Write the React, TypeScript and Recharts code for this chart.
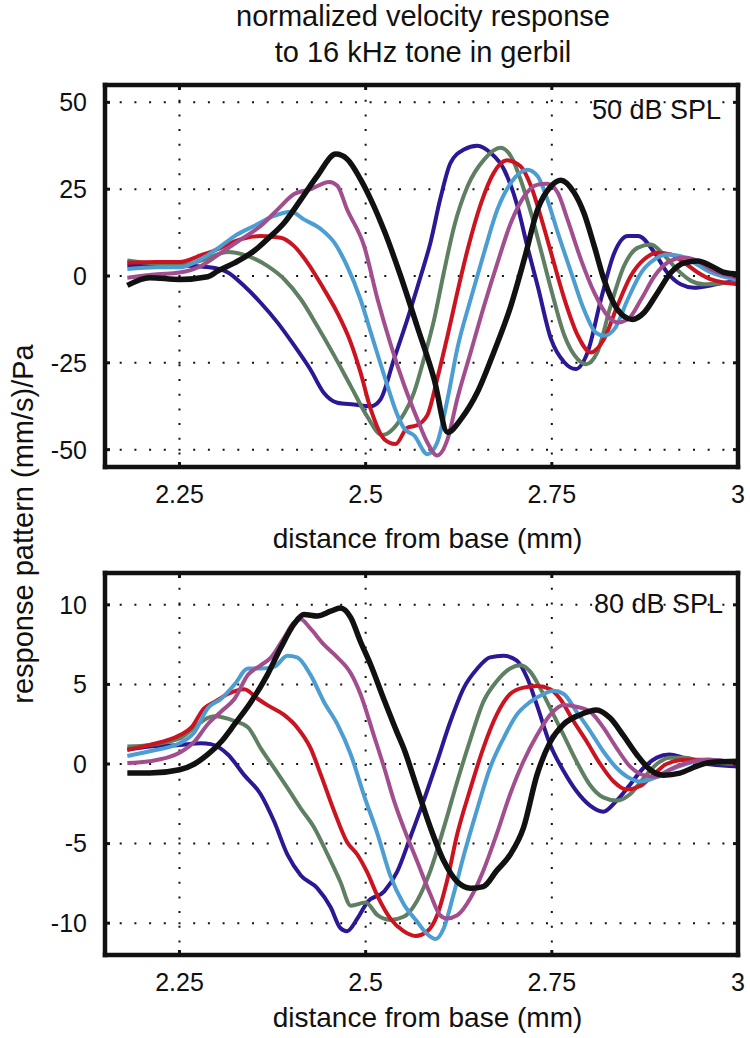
import { CartesianGrid, Label, Line, LineChart, XAxis, YAxis } from "recharts"

type Pair = [number, number]

const FONT = "'Liberation Sans', Arial, Helvetica, sans-serif"

// distance from base (mm)
const distDomain: [number, number] = [2.15, 3]
const distTicks = [2.25, 2.5, 2.75, 3]

const ticks50 = [-50, -25, 0, 25, 50]
const ticks80 = [-10, -5, 0, 5, 10]

// 50 dB SPL, six curves in phase order
const spl50_a: Pair[] = [[2.18, 3], [2.25, 3], [2.29, 2.5], [2.315, 1], [2.337, -2.9], [2.359, -7.7], [2.382, -13.5], [2.404, -20], [2.426, -27], [2.444, -33.7], [2.462, -36.5], [2.484, -37], [2.507, -37.5], [2.52, -35.5], [2.538, -24], [2.556, -12.5], [2.574, 0], [2.587, 9.6], [2.6, 22], [2.614, 32.6], [2.632, 36.4], [2.65, 37.5], [2.668, 35.4], [2.686, 30.6], [2.704, 20], [2.717, 8.6], [2.731, -2.9], [2.749, -18.2], [2.767, -24.9], [2.782, -26.8], [2.798, -22], [2.816, -6.7], [2.834, 6.7], [2.852, 11.5], [2.866, 11.5], [2.888, 6.7], [2.905, 1], [2.923, -2.4], [2.941, -3.4], [2.959, -2.9], [2.977, -2.1], [3.0, -1.4]]
const spl50_b: Pair[] = [[2.18, 4.5], [2.22, 3.5], [2.25, 3], [2.28, 4.5], [2.315, 6.9], [2.341, 5.8], [2.368, 2.9], [2.391, -1], [2.413, -6.7], [2.435, -14.4], [2.458, -23], [2.48, -31.7], [2.502, -40.4], [2.522, -45.8], [2.547, -41.2], [2.565, -33.5], [2.578, -24], [2.592, -12.5], [2.605, 1], [2.619, 14.4], [2.637, 25.9], [2.659, 33.5], [2.681, 36.9], [2.695, 34.5], [2.708, 27.8], [2.722, 18.2], [2.735, 7.7], [2.749, -3.8], [2.767, -17.2], [2.785, -24], [2.796, -25.4], [2.811, -22], [2.829, -8.6], [2.847, 2.9], [2.865, 8.1], [2.883, 9.1], [2.9, 6.2], [2.918, 1.9], [2.937, -1.4], [2.954, -2.4], [2.977, -2.1], [3.0, -1.9]]
const spl50_c: Pair[] = [[2.18, 3.8], [2.22, 4], [2.25, 4], [2.279, 6], [2.301, 7.7], [2.324, 10], [2.359, 11.5], [2.386, 11], [2.404, 8.6], [2.422, 3.8], [2.444, -3.8], [2.462, -10.6], [2.48, -19.2], [2.493, -27.7], [2.507, -38.5], [2.525, -47], [2.54, -48.4], [2.556, -43.7], [2.569, -43], [2.583, -40], [2.596, -29.7], [2.61, -17.2], [2.623, -4.8], [2.637, 7.7], [2.655, 21], [2.672, 29.7], [2.69, 33.3], [2.708, 31.6], [2.722, 25.9], [2.735, 17.2], [2.749, 6.7], [2.767, -6.7], [2.785, -17.2], [2.802, -22], [2.82, -18.2], [2.838, -8.6], [2.856, 0], [2.874, 4.8], [2.892, 6.7], [2.91, 6.2], [2.928, 3.8], [2.946, 1], [2.964, -1], [3.0, -2.4]]
const spl50_d: Pair[] = [[2.18, 2], [2.22, 2.5], [2.25, 2.5], [2.28, 5], [2.306, 8.7], [2.324, 11.5], [2.35, 14.4], [2.377, 17.3], [2.4, 18.5], [2.417, 16.3], [2.44, 13.5], [2.458, 9.6], [2.475, 2.9], [2.493, -6.7], [2.507, -16.3], [2.525, -28.7], [2.543, -40.2], [2.552, -44], [2.565, -45.9], [2.583, -51.3], [2.596, -48], [2.61, -35.4], [2.623, -21], [2.641, -6.7], [2.659, 6.7], [2.677, 19.2], [2.695, 26.8], [2.717, 30.6], [2.731, 28.7], [2.744, 22], [2.758, 12.5], [2.776, 1], [2.793, -9.6], [2.809, -16.3], [2.82, -17.2], [2.834, -15.3], [2.852, -6.7], [2.87, 1], [2.888, 4.8], [2.905, 6.2], [2.923, 5.7], [2.941, 3.8], [2.964, 1], [3.0, -1.1]]
const spl50_e: Pair[] = [[2.18, -0.5], [2.22, 0.5], [2.25, 1], [2.279, 2.9], [2.306, 6.7], [2.333, 10.6], [2.359, 14.4], [2.382, 19.2], [2.404, 23.6], [2.426, 25], [2.451, 27.1], [2.462, 26], [2.475, 19.2], [2.498, 8.6], [2.516, -6.7], [2.534, -20], [2.552, -31.6], [2.569, -41], [2.583, -48], [2.596, -51.7], [2.61, -47], [2.623, -35.4], [2.641, -22], [2.659, -8.6], [2.677, 3.8], [2.695, 15.3], [2.713, 23], [2.731, 26.3], [2.744, 26.6], [2.758, 24], [2.771, 16.3], [2.789, 4.8], [2.807, -4.8], [2.825, -11.5], [2.838, -13.4], [2.852, -12.5], [2.87, -6.7], [2.888, 0], [2.905, 3.8], [2.928, 5.3], [2.946, 4.3], [2.964, 1.9], [3.0, -0.5]]
const spl50_f: Pair[] = [[2.18, -2.7], [2.21, -0.5], [2.25, -1], [2.288, -0.2], [2.301, 1.4], [2.324, 3.8], [2.35, 7.2], [2.368, 10.6], [2.391, 15.4], [2.413, 22], [2.435, 28.8], [2.46, 35.1], [2.475, 33.7], [2.493, 27.9], [2.507, 22], [2.525, 13], [2.547, 0], [2.569, -14.4], [2.592, -29.7], [2.61, -45], [2.628, -41.2], [2.65, -33.5], [2.672, -22], [2.695, -8.6], [2.713, 4.8], [2.731, 19.2], [2.749, 25.9], [2.762, 27.6], [2.78, 24], [2.793, 18.2], [2.807, 8.6], [2.82, -1], [2.838, -9.6], [2.858, -12.5], [2.874, -10.5], [2.892, -4.8], [2.91, 1], [2.928, 3.8], [2.946, 4.3], [2.964, 2.9], [2.982, 1], [3.0, 0.5]]

// 80 dB SPL
const spl80_a: Pair[] = [[2.18, 0.9], [2.21, 1.1], [2.25, 1.2], [2.279, 1.3], [2.292, 1.25], [2.315, 0.6], [2.337, -0.7], [2.359, -1.9], [2.377, -3.6], [2.395, -5.7], [2.413, -7], [2.435, -7.8], [2.453, -9], [2.466, -10.3], [2.475, -10.5], [2.489, -9.7], [2.502, -8.7], [2.525, -8], [2.542, -6.8], [2.56, -4.6], [2.578, -2.3], [2.596, 0.17], [2.614, 2.7], [2.632, 4.8], [2.65, 6], [2.667, 6.7], [2.685, 6.8], [2.703, 6.5], [2.717, 5.4], [2.73, 3.7], [2.748, 1.2], [2.766, -0.46], [2.783, -1.7], [2.801, -2.6], [2.819, -3], [2.837, -2.3], [2.855, -1.3], [2.873, -0.25], [2.891, 0.4], [2.908, 0.6], [2.926, 0.4], [2.949, 0.06], [3.0, -0.15]]
const spl80_b: Pair[] = [[2.18, 1.1], [2.21, 1.2], [2.25, 1.6], [2.27, 2.3], [2.288, 2.9], [2.297, 3], [2.324, 2.7], [2.342, 2.3], [2.359, 1], [2.377, -0.25], [2.395, -1.5], [2.413, -2.8], [2.431, -4], [2.449, -5.7], [2.466, -7.4], [2.48, -8.9], [2.5, -8.7], [2.516, -9.5], [2.533, -9.8], [2.551, -9.6], [2.569, -8.6], [2.587, -6.7], [2.605, -4], [2.623, -1.1], [2.641, 1.6], [2.658, 3.9], [2.676, 5.2], [2.694, 6], [2.708, 6.2], [2.721, 5.8], [2.734, 4.8], [2.748, 3.5], [2.766, 1.8], [2.783, 0.17], [2.801, -1.3], [2.819, -2.1], [2.837, -2.3], [2.855, -1.9], [2.873, -0.9], [2.891, 0], [2.908, 0.4], [2.93, 0.4], [2.95, 0.17], [3.0, 0]]
const spl80_c: Pair[] = [[2.18, 0.9], [2.21, 1.2], [2.25, 1.8], [2.266, 2.3], [2.283, 3.5], [2.297, 3.9], [2.315, 4.4], [2.337, 4.7], [2.355, 4.1], [2.368, 3.7], [2.39, 3.1], [2.408, 2.3], [2.426, 1], [2.44, -0.7], [2.458, -3], [2.475, -4.9], [2.489, -5.7], [2.502, -6.8], [2.516, -8.3], [2.533, -9.7], [2.551, -10.5], [2.567, -10.8], [2.583, -10.5], [2.596, -9.5], [2.609, -7.4], [2.623, -4.4], [2.641, -1.5], [2.658, 1], [2.676, 3.1], [2.694, 4.4], [2.712, 4.8], [2.73, 4.9], [2.748, 4.7], [2.761, 4.1], [2.779, 2.7], [2.797, 1.4], [2.815, 0], [2.833, -1.1], [2.85, -1.6], [2.868, -1.4], [2.886, -0.7], [2.904, 0], [2.93, 0.27], [2.96, 0.27], [3.0, 0]]
const spl80_d: Pair[] = [[2.18, 0.5], [2.21, 0.8], [2.25, 1.3], [2.27, 2], [2.288, 3.5], [2.306, 4.1], [2.324, 5], [2.342, 6], [2.359, 6], [2.377, 6.1], [2.395, 6.8], [2.408, 6.7], [2.426, 5.6], [2.444, 3.9], [2.462, 2.5], [2.48, 0.6], [2.498, -2], [2.516, -4.4], [2.533, -7], [2.551, -8.8], [2.569, -9.9], [2.583, -10.7], [2.594, -11], [2.605, -10.3], [2.618, -8.2], [2.632, -5.7], [2.65, -2.8], [2.667, -0.25], [2.685, 1.6], [2.703, 3.1], [2.721, 3.9], [2.739, 4.4], [2.752, 4.6], [2.766, 4.4], [2.783, 3.3], [2.801, 2.1], [2.819, 0.8], [2.837, -0.25], [2.855, -0.9], [2.868, -1.1], [2.886, -0.9], [2.904, -0.46], [2.93, 0], [2.96, 0.27], [3.0, 0.06]]
const spl80_e: Pair[] = [[2.18, 0.06], [2.21, 0.17], [2.25, 0.7], [2.27, 1.4], [2.288, 2.5], [2.306, 3.3], [2.324, 4.1], [2.342, 5.6], [2.359, 6.2], [2.373, 6.7], [2.39, 7.9], [2.404, 8.9], [2.413, 9.1], [2.426, 8.5], [2.444, 7.5], [2.462, 6.7], [2.48, 5.7], [2.493, 4.4], [2.511, 1.8], [2.525, -0.25], [2.538, -2.3], [2.551, -4], [2.569, -6.1], [2.587, -8.2], [2.6, -9.5], [2.609, -9.7], [2.623, -9.5], [2.641, -8.4], [2.658, -6.7], [2.676, -4.4], [2.694, -1.9], [2.712, 0.17], [2.73, 1.8], [2.748, 3.1], [2.766, 3.7], [2.783, 3.6], [2.801, 3.3], [2.819, 2.3], [2.837, 1], [2.855, -0.15], [2.873, -0.7], [2.891, -0.8], [2.908, -0.36], [2.93, 0.06], [2.96, 0.27], [3.0, 0.06]]
const spl80_f: Pair[] = [[2.18, -0.57], [2.21, -0.57], [2.25, -0.36], [2.27, 0], [2.288, 0.6], [2.306, 1.4], [2.324, 2.5], [2.346, 3.9], [2.368, 5.6], [2.386, 7.3], [2.404, 8.8], [2.417, 9.4], [2.435, 9.3], [2.453, 9.6], [2.466, 9.8], [2.48, 9.2], [2.493, 7.7], [2.507, 6.2], [2.525, 4], [2.542, 2], [2.551, 1], [2.569, -1.5], [2.587, -4], [2.605, -6.1], [2.623, -7.4], [2.641, -7.8], [2.658, -7.7], [2.676, -6.7], [2.694, -5.7], [2.712, -4], [2.73, -0.7], [2.748, 1.4], [2.766, 2.5], [2.788, 3.1], [2.81, 3.4], [2.828, 2.9], [2.846, 1.8], [2.864, 0.6], [2.882, -0.36], [2.9, -0.7], [2.922, -0.57], [2.944, -0.15], [2.962, 0.1], [3.0, 0.17]]

const COLORS = ["#2c1795", "#5e7f61", "#cc1421", "#4c9dd2", "#a24e8e", "#111111"]
const WIDTHS = [4, 4, 4, 4, 4, 5.5]

const toPoints = (pairs: Pair[]) => pairs.map(([d, v]) => ({ d, v }))

const boxLine = { stroke: "#111", strokeWidth: 4.5, strokeLinecap: "square" as const }
const tickMark = { stroke: "#111", strokeWidth: 3 }
const tickFont = { fill: "#111", fontSize: 25, fontFamily: FONT }

type PanelProps = {
    curves: Pair[][]
    yDomain: [number, number]
    yTicks: number[]
    top: number
    height: number
    titleOffset: number
}

function Panel({ curves, yDomain, yTicks, top, height, titleOffset }: PanelProps) {
    return (
        <div style={{ position: "absolute", left: 0, top }}>
            <LineChart width={750} height={height} margin={{ top: 84, right: 11, bottom: height - 527, left: 0 }}>
                <CartesianGrid xAxisId="b" yAxisId="l" stroke="#111" strokeWidth={2} strokeDasharray="2 12.7" />
                <XAxis xAxisId="b" dataKey="d" type="number" domain={distDomain} ticks={distTicks}
                    allowDataOverflow interval={0} height={60} tickSize={-5} tickMargin={23}
                    axisLine={boxLine} tickLine={tickMark} tick={tickFont}>
                    <Label value="distance from base (mm)" position="bottom" offset={titleOffset} dx={6}
                        fontSize={28} fontFamily={FONT} fill="#111" />
                </XAxis>
                <XAxis xAxisId="t" orientation="top" dataKey="d" type="number" domain={distDomain} ticks={distTicks}
                    allowDataOverflow interval={0} height={1} tickSize={-5}
                    axisLine={boxLine} tickLine={tickMark} tickFormatter={() => ""} />
                <YAxis yAxisId="l" type="number" domain={yDomain} ticks={yTicks}
                    allowDataOverflow interval={0} width={105} tickSize={-5} tickMargin={23}
                    axisLine={boxLine} tickLine={tickMark} tick={tickFont} />
                <YAxis yAxisId="r" orientation="right" type="number" domain={yDomain} ticks={yTicks}
                    allowDataOverflow interval={0} width={1} tickSize={-5}
                    axisLine={boxLine} tickLine={tickMark} tickFormatter={() => ""} />
                {curves.map((pairs, i) => (
                    <Line
                        key={`curve-${i}`}
                        xAxisId="b"
                        yAxisId="l"
                        data={toPoints(pairs)}
                        dataKey="v"
                        type="monotone"
                        stroke={COLORS[i]}
                        strokeWidth={WIDTHS[i]}
                        dot={false}
                        activeDot={false}
                        isAnimationActive={false}
                    />
                ))}
            </LineChart>
        </div>
    )
}

export default function App() {
    return (
        <div style={{ position: "absolute", left: 0, top: 0, width: 750, height: 1038, background: "#fff", fontFamily: FONT }}>
            <Panel curves={[spl50_a, spl50_b, spl50_c, spl50_d, spl50_e, spl50_f]} yDomain={[-55, 55]} yTicks={ticks50} top={0} height={565} titleOffset={1} />
            <Panel curves={[spl80_a, spl80_b, spl80_c, spl80_d, spl80_e, spl80_f]} yDomain={[-12, 12]} yTicks={ticks80} top={488} height={550} titleOffset={-8} />
            <svg width={750} height={1038} style={{ position: "absolute", left: 0, top: 0, pointerEvents: "none" }}>
                <g fontFamily={FONT} fill="#111">
                    <text x={423} y={26} fontSize={29} textAnchor="middle">normalized velocity response</text>
                    <text x={423} y={62} fontSize={29} textAnchor="middle">to 16 kHz tone in gerbil</text>
                    <text transform="translate(33,524) rotate(-90)" fontSize={29} textAnchor="middle">response pattern (mm/s)/Pa</text>
                    <text x={721} y={119} fontSize={27} textAnchor="end">50 dB SPL</text>
                    <text x={723} y={613} fontSize={27} textAnchor="end">80 dB SPL</text>
                </g>
            </svg>
        </div>
    )
}
